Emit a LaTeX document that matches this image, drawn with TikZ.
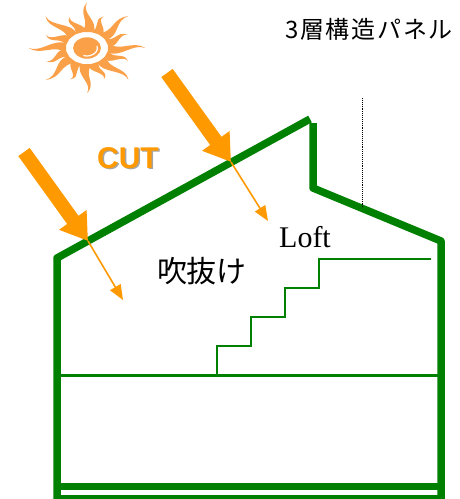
\documentclass[tikz,border=0pt]{standalone}
\usepackage{fontspec}
\setmainfont{Liberation Serif}
\setsansfont{Liberation Sans}
\newfontfamily\jpfont{Noto Sans CJK JP}
\newfontfamily\jpwide{Noto Sans CJK JP}[LetterSpace=7]
\usepackage{tikz}
\usetikzlibrary{arrows.meta}

\definecolor{wallgreen}{RGB}{0,128,0}
\definecolor{rayorange}{RGB}{255,153,0}
\definecolor{sunorange}{RGB}{250,160,72}

\newcommand\sunray[2]{%
  \pgfmathsetmacro\ra{16+(#2-16)/3}%
  \pgfmathsetmacro\rb{16+2*(#2-16)/3}%
  \fill[sunorange,rotate=#1] (16,4.5) .. controls (\ra,10) and (\rb,-5) .. (#2,0)
    .. controls (\rb,-8) and (\ra,4) .. (16,-4.5) -- cycle;}

\begin{document}
\begin{tikzpicture}[
        x=1pt, y=-1pt,
        wall/.style={draw=wallgreen, line width=7.5pt, line join=round},
        floor/.style={draw=wallgreen, line width=3pt},
        stair/.style={draw=wallgreen, line width=1.8pt},
        ray/.style={draw=rayorange, line width=14pt, -{Triangle[width=32pt,length=26pt]}},
        heat/.style={draw=rayorange, line width=1.6pt, -{Triangle[width=12pt,length=15pt]}}
        ]
        \useasboundingbox (0,0) rectangle (459,499);

        % sun
        \begin{scope}[shift={(87,48)}, xscale=1.3]
          \foreach \a in {0,45,...,315} {\sunray{\a}{45}}
          \foreach \a in {22.5,67.5,...,337.5} {\sunray{\a}{34}}
          \fill[sunorange] (0,0) circle (10.7);
          \draw[white, line width=1.2pt] (-15:8) arc[start angle=-15, end angle=110, radius=8];
        \end{scope}

        % house
        \draw[wall, line cap=butt] (57,499) -- (57,258) -- (310,119);
        \draw[wall] (313,123) -- (313,188) -- (441,241) -- (441,499);
        \draw[floor] (57,375.5) -- (441,375.5);
        \draw[wall] (57,486.5) -- (441,486.5);
        \draw[wall] (57,499) -- (441,499);
        \draw[stair] (217,375) |- (251,346) |- (285,317) |- (319,288) |- (431,259);
        \draw[densely dotted, line width=0.9pt] (362,98) -- (362,207);

        \coordinate (hit1) at (88,241);
        \coordinate (hit2) at (231,162);
        \coordinate (from1) at (24,152);
        \coordinate (from2) at (167,73);
        \coordinate (in1) at (123,300);
        \coordinate (in2) at (268,221);

        \draw[ray] (from1) -- (hit1);
        \draw[ray] (from2) -- (hit2);
        \draw[heat] (hit1) -- (in1);
        \draw[heat] (hit2) -- (in2);

        \node[anchor=base, text=black!35, font=\sffamily\bfseries\fontsize{30}{30}\selectfont] (cutshadow) at (129.5,169.5) {CUT};
        \node[anchor=base, text=rayorange, font=\sffamily\bfseries\fontsize{30}{30}\selectfont] (cut) at (128,168) {CUT};
        \node[anchor=base, font=\fontsize{30}{30}\selectfont] (loft) at (305,247) {Loft};
        \node[font=\jpfont\fontsize{30}{30}\selectfont] (void) at (202,271) {吹抜け};
        \node[font=\jpwide\fontsize{24}{24}\selectfont] (panel) at (369,29) {3層構造パネル};
\end{tikzpicture}
\end{document}
